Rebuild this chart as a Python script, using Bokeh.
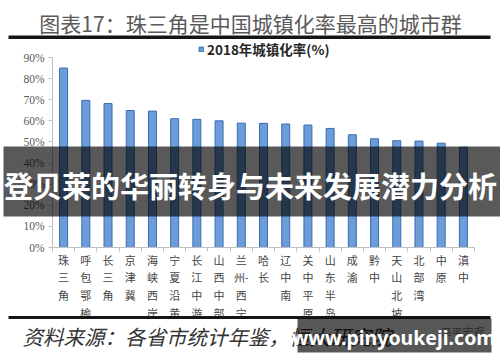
from bokeh.plotting import figure
from bokeh.models import (Range1d, FixedTicker, PrintfTickFormatter, Label,
                          BoxAnnotation, Legend, LegendItem, ColumnDataSource)
from bokeh.embed import file_html
from bokeh.resources import INLINE

# ---- data ----
title_text = "图表17：珠三角是中国城镇化率最高的城市群"
series_name = "2018年城镇化率(%)"
categories = ["珠三角", "呼包鄂榆", "长三角", "京津冀", "海峡西岸", "宁夏沿黄",
              "长江中游", "山西中部", "兰州-西宁", "哈长", "辽中南", "关中平原",
              "山东半岛", "成渝", "黔中", "天山北坡", "北部湾", "中原", "滇中"]
rates = [85.0, 69.7, 68.2, 64.9, 64.6, 61.0, 60.7, 60.0, 58.9, 58.8, 58.5,
         58.0, 56.4, 53.4, 51.5, 50.6, 50.4, 49.4, 47.5]
y_ticks = [0, 10, 20, 30, 40, 50, 60, 70, 80, 90]
source_text = "资料来源：各省市统计年鉴，恒大研究院"
source_mark = "泽平宏观"
banner_text = "登贝莱的华丽转身与未来发展潜力分析"
watermark_text = "www.pinyoukeji.com"

CJK = "Noto Sans CJK SC"
W, H = 500, 362

# plot-area placement (pixels on the canvas)
AX_L, AX_R = 52, 474     # category span
AX_T, AX_B = 57, 247     # 90% .. 0%
Y_MAX = 90


def vertical(label):
    lines = []
    for ch in label:
        if ch == "-" and lines:
            lines[-1] += ch
        else:
            lines.append(ch)
    return "\n".join(lines)


n = len(categories)
centers = [i + 0.5 for i in range(n)]
bounds = [float(i) for i in range(n + 1)]
src = ColumnDataSource(dict(x=centers, top=rates, name=categories))

kx = (AX_R - AX_L) / n
ky = (AX_B - AX_T) / Y_MAX
x_range = Range1d(-AX_L / kx, n + (W - AX_R) / kx)
y_range = Range1d(-(H - AX_B) / ky, Y_MAX + AX_T / ky)


def sy(y):
    return H - y


p = figure(width=W, height=H, output_backend="svg", toolbar_location=None,
           title=None, x_range=x_range, y_range=y_range,
           min_border_left=0, min_border_right=0, min_border_top=0,
           min_border_bottom=0)
p.background_fill_color = "white"
p.border_fill_color = "white"
p.outline_line_color = None
p.xgrid.visible = False
p.ygrid.visible = False

bars = p.vbar(x="x", top="top", width=0.36, source=src,
              fill_color="#6d9dd9", line_color="#3a6cb3", line_width=1)

# y axis
ya = p.yaxis[0]
ya.fixed_location = 0
ya.bounds = (0, Y_MAX)
ya.ticker = FixedTicker(ticks=y_ticks)
ya.formatter = PrintfTickFormatter(format="%d%%")
ya.axis_line_color = "#bfbfbf"
ya.major_tick_line_color = "#bfbfbf"
ya.major_tick_out = 4
ya.major_tick_in = 0
ya.minor_tick_line_color = None
ya.major_label_text_font = "Liberation Serif"
ya.major_label_text_font_size = "11.5px"
ya.major_label_text_color = "#595959"
ya.major_label_standoff = 4

# x axis
xa = p.xaxis[0]
xa.fixed_location = 0
xa.bounds = (0, n)
xa.ticker = FixedTicker(ticks=centers, minor_ticks=bounds)
xa.major_label_overrides = {c: vertical(cat) for c, cat in zip(centers, categories)}
xa.axis_line_color = "#bfbfbf"
xa.major_tick_line_color = None
xa.major_tick_out = 0
xa.major_tick_in = 0
xa.minor_tick_line_color = "#bfbfbf"
xa.minor_tick_out = 4
xa.minor_tick_in = 0
xa.major_label_text_font = CJK
xa.major_label_text_font_size = "11px"
xa.major_label_text_color = "#444444"
xa.major_label_text_line_height = 1.12
xa.major_label_standoff = 0

# legend
legend = Legend(items=[LegendItem(label=series_name, renderers=[bars])],
                location=(198, sy(59)), orientation="horizontal",
                glyph_width=6, glyph_height=6, label_height=14, label_width=20,
                label_standoff=3, padding=0, margin=0, spacing=0,
                border_line_color=None, background_fill_alpha=0,
                label_text_font=CJK, label_text_font_style="bold",
                label_text_font_size="13.5px", label_text_color="#262626")
p.add_layout(legend, "center")


def box(x0, x1, y0, y1, color, alpha):
    return BoxAnnotation(left=x0, right=x1, top=sy(y0), bottom=sy(y1),
                         left_units="screen", right_units="screen",
                         top_units="screen", bottom_units="screen",
                         fill_color=color, fill_alpha=alpha, line_color=None)


def label(x, y, text, size, color, font=CJK, style="normal", align="center"):
    return Label(x=x, y=sy(y), x_units="screen", y_units="screen", text=text,
                 text_align=align, text_baseline="middle", text_font=font,
                 text_font_style=style, text_font_size=size, text_color=color)


# title and horizontal rules
p.add_layout(label(250, 22, title_text, "21px", "#5a5a5a"))
p.add_layout(box(8, 490, 35, 38.5, "#151515", 1.0))
p.add_layout(box(8, 490, 315.5, 318.5, "#151515", 1.0))

# source line
p.add_layout(label(22, 335, source_text, "20.5px", "#333333", style="italic", align="left"))
p.add_layout(label(462, 331, source_mark, "11px", "#777777"))

# banner overlay
p.add_layout(box(3, 500, 146, 216, "black", 0.65))
p.add_layout(label(250, 184, banner_text, "29px", "white", style="bold"))

# watermark box
p.add_layout(box(297, 491, 318, 352, "black", 0.66))
p.add_layout(label(393, 337, watermark_text, "19.5px", "white", font="Noto Sans", style="bold"))

open("out.html", "w").write(file_html(p, INLINE))
